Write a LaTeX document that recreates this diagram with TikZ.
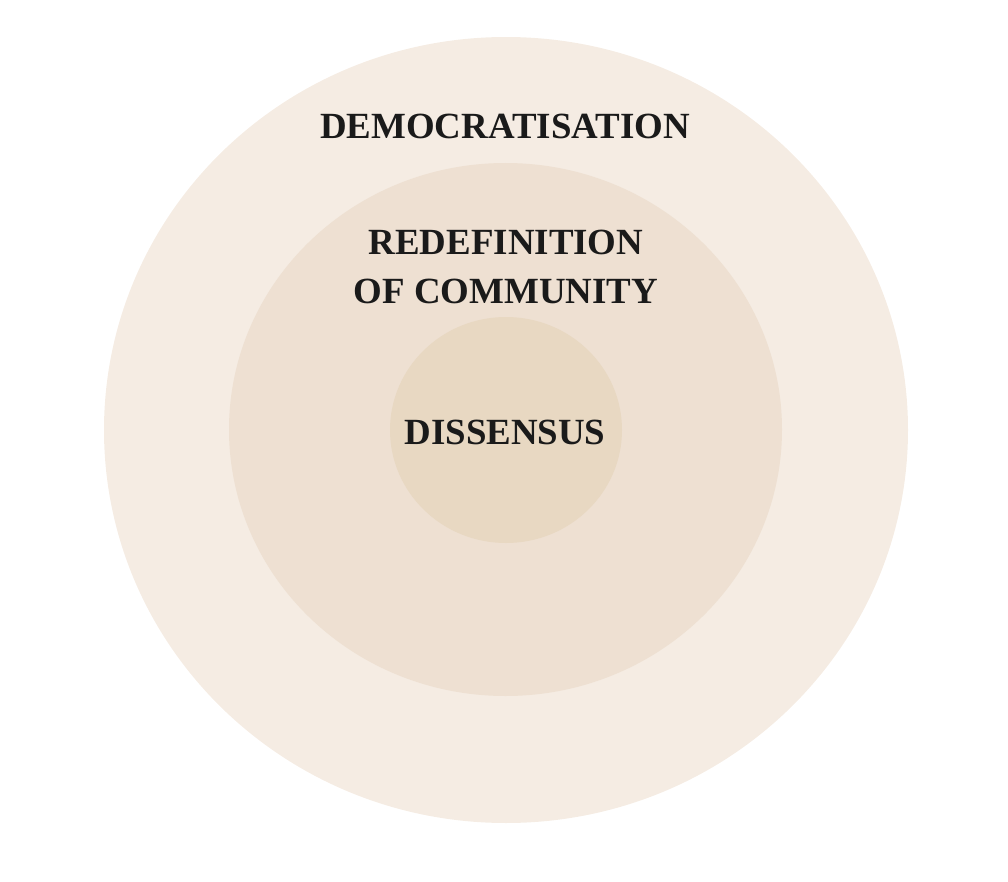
\documentclass[tikz,border=0pt]{standalone}
\usepackage{fontspec}
\setmainfont{Liberation Serif}
\usepackage{xcolor}
\definecolor{ringout}{HTML}{F5ECE3}
\definecolor{ringmid}{HTML}{EEE0D2}
\definecolor{ringin}{HTML}{E8D8C2}
\definecolor{ink}{HTML}{1A1A1A}
\begin{document}
\begin{tikzpicture}[x=0.02cm,y=-0.02cm,
    label/.style={text=ink,align=center,font=\fontsize{21}{28}\selectfont\bfseries}]
    \useasboundingbox (0,0) rectangle (1008,882);
    % rings, outside in
    \fill[ringout] (506,430) ellipse [x radius=402,y radius=393];
    \fill[ringmid] (505.5,429.5) ellipse [x radius=276.5,y radius=266.5];
    \fill[ringin] (506,430) ellipse [x radius=116,y radius=113];
    % labels
    \node[label] (demo) at (505,126) {DEMOCRATISATION};
    \node[label] (redef) at (506,267) {REDEFINITION\\OF COMMUNITY};
    \node[label] (diss) at (505,432) {DISSENSUS};
\end{tikzpicture}
\end{document}
